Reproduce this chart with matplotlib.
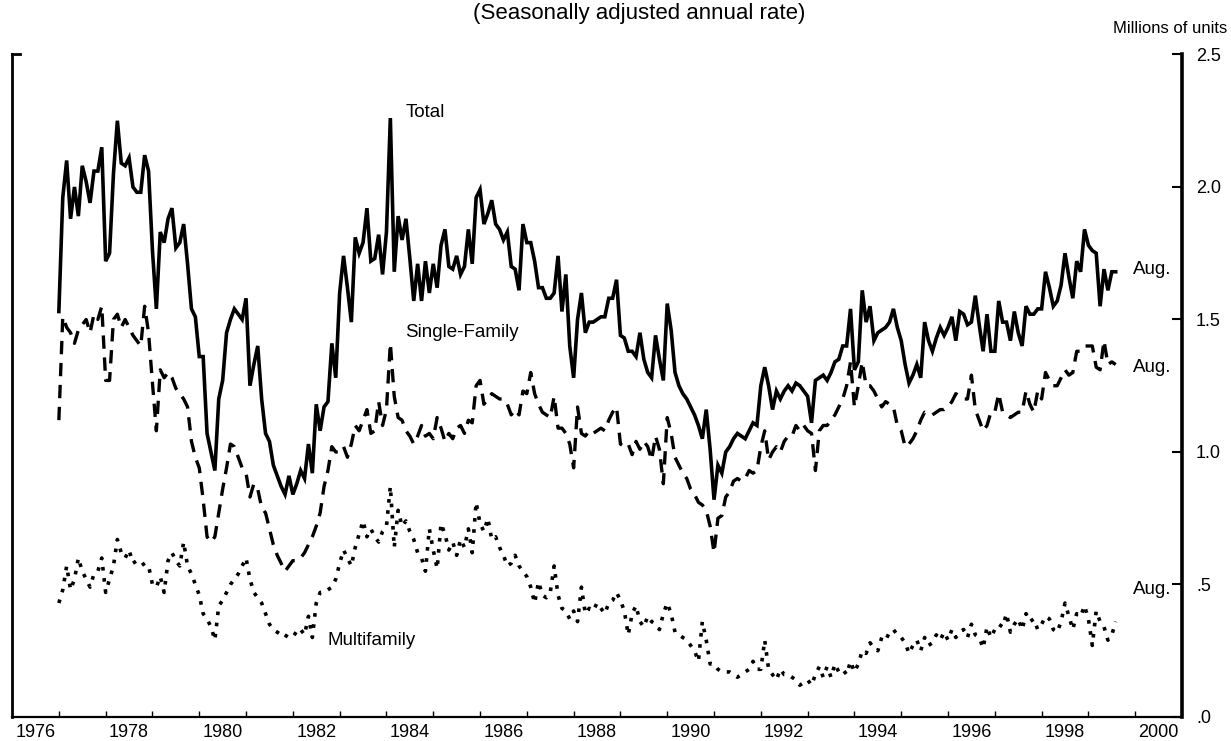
import matplotlib
matplotlib.use("Agg")
import matplotlib.pyplot as plt
import numpy as np

plt.rcParams['font.family'] = ['Liberation Sans', 'DejaVu Sans']

# Private housing starts, monthly Jan 1977 - Aug 1999 (millions, SAAR)
start_year = 1977

total = [
    1.53, 1.96, 2.10, 1.88, 2.00, 1.89, 2.08, 2.02, 1.94, 2.06, 2.06, 2.15,  # 1977
    1.72, 1.75, 2.05, 2.25, 2.09, 2.08, 2.11, 2.00, 1.98, 1.98, 2.12, 2.06,  # 1978
    1.76, 1.54, 1.83, 1.79, 1.88, 1.92, 1.77, 1.79, 1.86, 1.71, 1.54, 1.51,  # 1979
    1.36, 1.36, 1.07, 1.00, 0.93, 1.20, 1.27, 1.45, 1.50, 1.54, 1.52, 1.50,  # 1980
    1.58, 1.25, 1.33, 1.40, 1.20, 1.07, 1.04, 0.95, 0.91, 0.87, 0.84, 0.91,  # 1981
    0.84, 0.88, 0.93, 0.90, 1.03, 0.92, 1.18, 1.08, 1.17, 1.19, 1.41, 1.28,  # 1982
    1.60, 1.74, 1.62, 1.49, 1.81, 1.75, 1.79, 1.92, 1.72, 1.73, 1.82, 1.67,  # 1983
    1.83, 2.26, 1.68, 1.89, 1.80, 1.88, 1.73, 1.57, 1.71, 1.57, 1.72, 1.60,  # 1984
    1.71, 1.62, 1.78, 1.84, 1.70, 1.69, 1.74, 1.67, 1.70, 1.84, 1.71, 1.96,  # 1985
    1.99, 1.86, 1.90, 1.95, 1.86, 1.84, 1.80, 1.83, 1.70, 1.69, 1.61, 1.86,  # 1986
    1.79, 1.79, 1.72, 1.62, 1.62, 1.58, 1.58, 1.60, 1.74, 1.53, 1.67, 1.40,  # 1987
    1.28, 1.50, 1.60, 1.45, 1.49, 1.49, 1.50, 1.51, 1.51, 1.58, 1.58, 1.65,  # 1988
    1.44, 1.43, 1.38, 1.38, 1.36, 1.45, 1.35, 1.30, 1.28, 1.44, 1.35, 1.27,  # 1989
    1.56, 1.46, 1.30, 1.25, 1.22, 1.20, 1.17, 1.14, 1.10, 1.05, 1.16, 1.01,  # 1990
    0.82, 0.95, 0.92, 1.00, 1.02, 1.05, 1.07, 1.06, 1.05, 1.08, 1.11, 1.10,  # 1991
    1.25, 1.32, 1.25, 1.16, 1.23, 1.20, 1.23, 1.25, 1.23, 1.26, 1.25, 1.23,  # 1992
    1.21, 1.11, 1.27, 1.28, 1.29, 1.27, 1.30, 1.34, 1.35, 1.40, 1.40, 1.54,  # 1993
    1.31, 1.34, 1.61, 1.49, 1.55, 1.42, 1.45, 1.46, 1.47, 1.49, 1.54, 1.47,  # 1994
    1.42, 1.33, 1.26, 1.29, 1.33, 1.28, 1.49, 1.42, 1.38, 1.43, 1.47, 1.44,  # 1995
    1.47, 1.51, 1.42, 1.53, 1.52, 1.48, 1.49, 1.59, 1.48, 1.38, 1.52, 1.38,  # 1996
    1.38, 1.57, 1.49, 1.49, 1.42, 1.53, 1.45, 1.40, 1.55, 1.52, 1.52, 1.54,  # 1997
    1.54, 1.68, 1.62, 1.55, 1.57, 1.63, 1.75, 1.66, 1.58, 1.72, 1.68, 1.84,  # 1998
    1.78, 1.76, 1.75, 1.55, 1.69, 1.61, 1.68, 1.68,                          # 1999
]

single_family = [
    1.12, 1.51, 1.47, 1.45, 1.41, 1.46, 1.48, 1.50, 1.45, 1.52, 1.50, 1.55,  # 1977
    1.27, 1.27, 1.50, 1.52, 1.47, 1.50, 1.47, 1.44, 1.42, 1.40, 1.55, 1.45,  # 1978
    1.26, 1.08, 1.31, 1.28, 1.30, 1.28, 1.24, 1.22, 1.20, 1.17, 1.04, 0.98,  # 1979
    0.94, 0.82, 0.68, 0.66, 0.68, 0.77, 0.86, 0.94, 1.03, 1.02, 0.98, 0.94,  # 1980
    0.92, 0.83, 0.88, 0.86, 0.79, 0.77, 0.71, 0.65, 0.61, 0.58, 0.55, 0.57,  # 1981
    0.59, 0.59, 0.60, 0.62, 0.65, 0.68, 0.72, 0.77, 0.87, 0.93, 1.02, 1.00,  # 1982
    1.00, 1.02, 0.98, 1.03, 1.10, 1.08, 1.12, 1.16, 1.07, 1.08, 1.19, 1.10,  # 1983
    1.16, 1.41, 1.21, 1.13, 1.12, 1.08, 1.06, 1.03, 1.06, 1.10, 1.06, 1.07,  # 1984
    1.05, 1.13, 1.09, 1.04, 1.07, 1.05, 1.09, 1.10, 1.07, 1.12, 1.11, 1.25,  # 1985
    1.27, 1.18, 1.20, 1.22, 1.21, 1.20, 1.20, 1.18, 1.14, 1.16, 1.14, 1.23,  # 1986
    1.22, 1.30, 1.22, 1.18, 1.15, 1.14, 1.13, 1.21, 1.09, 1.09, 1.07, 1.03,  # 1987
    0.94, 1.17, 1.07, 1.06, 1.08, 1.07, 1.08, 1.09, 1.08, 1.12, 1.15, 1.17,  # 1988
    1.03, 1.02, 1.03, 0.99, 1.04, 1.01, 1.04, 1.02, 0.97, 1.06, 1.01, 0.88,  # 1989
    1.13, 1.07, 0.98, 0.95, 0.92, 0.90, 0.86, 0.84, 0.81, 0.80, 0.78, 0.72,  # 1990
    0.62, 0.75, 0.76, 0.83, 0.85, 0.89, 0.90, 0.89, 0.90, 0.93, 0.92, 0.93,  # 1991
    1.02, 1.08, 0.97, 1.00, 1.02, 1.00, 1.04, 1.06, 1.06, 1.10, 1.08, 1.10,  # 1992
    1.08, 1.07, 0.93, 1.08, 1.10, 1.10, 1.12, 1.14, 1.17, 1.20, 1.25, 1.34,  # 1993
    1.17, 1.25, 1.34, 1.25, 1.25, 1.23, 1.20, 1.17, 1.19, 1.18, 1.17, 1.10,  # 1994
    1.08, 1.02, 1.03, 1.05, 1.08, 1.12, 1.15, 1.14, 1.14, 1.15, 1.16, 1.16,  # 1995
    1.17, 1.19, 1.22, 1.21, 1.20, 1.20, 1.29, 1.16, 1.12, 1.08, 1.10, 1.15,  # 1996
    1.15, 1.22, 1.15, 1.14, 1.13, 1.14, 1.15, 1.15, 1.23, 1.18, 1.15, 1.23,  # 1997
    1.20, 1.30, 1.27, 1.25, 1.25, 1.28, 1.31, 1.29, 1.30, 1.38, 1.38, 1.40,  # 1998
    1.40, 1.40, 1.32, 1.31, 1.42, 1.33, 1.34, 1.33,                          # 1999
]

multifamily = [
    0.43, 0.48, 0.57, 0.48, 0.52, 0.60, 0.55, 0.52, 0.49, 0.54, 0.55, 0.60,  # 1977
    0.47, 0.52, 0.57, 0.67, 0.62, 0.60, 0.63, 0.58, 0.59, 0.59, 0.57, 0.57,  # 1978
    0.50, 0.49, 0.53, 0.47, 0.59, 0.62, 0.59, 0.57, 0.66, 0.57, 0.54, 0.50,  # 1979
    0.46, 0.39, 0.37, 0.34, 0.29, 0.42, 0.44, 0.47, 0.50, 0.52, 0.54, 0.57,  # 1980
    0.60, 0.52, 0.47, 0.45, 0.43, 0.39, 0.35, 0.33, 0.32, 0.31, 0.30, 0.32,  # 1981
    0.32, 0.31, 0.33, 0.31, 0.38, 0.30, 0.43, 0.47, 0.47, 0.48, 0.49, 0.52,  # 1982
    0.58, 0.63, 0.60, 0.57, 0.64, 0.69, 0.74, 0.68, 0.71, 0.68, 0.66, 0.70,  # 1983
    0.72, 0.87, 0.64, 0.78, 0.72, 0.74, 0.70, 0.67, 0.62, 0.60, 0.55, 0.71,  # 1984
    0.63, 0.56, 0.73, 0.69, 0.63, 0.66, 0.61, 0.67, 0.64, 0.71, 0.62, 0.81,  # 1985
    0.73, 0.70, 0.75, 0.67, 0.68, 0.64, 0.61, 0.57, 0.58, 0.61, 0.57, 0.55,  # 1986
    0.53, 0.49, 0.43, 0.51, 0.46, 0.45, 0.47, 0.57, 0.46, 0.41, 0.40, 0.37,  # 1987
    0.40, 0.36, 0.49, 0.39, 0.41, 0.40, 0.43, 0.41, 0.39, 0.43, 0.44, 0.47,  # 1988
    0.44, 0.40, 0.31, 0.39, 0.42, 0.36, 0.34, 0.38, 0.36, 0.35, 0.33, 0.39,  # 1989
    0.43, 0.39, 0.32, 0.31, 0.30, 0.29, 0.27, 0.25, 0.21, 0.36, 0.29, 0.20,  # 1990
    0.20, 0.18, 0.17, 0.17, 0.17, 0.16, 0.15, 0.16, 0.17, 0.18, 0.21, 0.18,  # 1991
    0.18, 0.29, 0.18, 0.16, 0.14, 0.18, 0.16, 0.16, 0.15, 0.14, 0.12, 0.13,  # 1992
    0.14, 0.12, 0.16, 0.19, 0.15, 0.19, 0.15, 0.20, 0.17, 0.18, 0.16, 0.21,  # 1993
    0.17, 0.20, 0.25, 0.24, 0.28, 0.26, 0.25, 0.30, 0.29, 0.32, 0.33, 0.31,  # 1994
    0.30, 0.28, 0.24, 0.27, 0.29, 0.25, 0.30, 0.27, 0.28, 0.31, 0.29, 0.32,  # 1995
    0.29, 0.33, 0.30, 0.32, 0.33, 0.30, 0.35, 0.31, 0.30, 0.26, 0.34, 0.30,  # 1996
    0.33, 0.35, 0.34, 0.39, 0.32, 0.35, 0.37, 0.33, 0.39, 0.36, 0.37, 0.33,  # 1997
    0.35, 0.38, 0.37, 0.33, 0.32, 0.36, 0.43, 0.38, 0.33, 0.39, 0.38, 0.42,  # 1998
    0.37, 0.27, 0.40, 0.36, 0.34, 0.29, 0.31, 0.36,                          # 1999
]

year_labels = [str(y) for y in range(1976, 2001, 2)]
y_ticks = [0.0, 0.5, 1.0, 1.5, 2.0, 2.5]
y_labels = ['.0', '.5', '1.0', '1.5', '2.0', '2.5']

# monthly dates as decimal years
dates = start_year + np.arange(len(total)) / 12.0

fig = plt.figure(figsize=(12.31, 7.41), dpi=100)
ax = fig.add_axes([0.0098, 0.0324, 0.9504, 0.8941])

ax.plot(dates, total, color='black', lw=2.6, solid_joinstyle='miter')
ax.plot(dates, single_family, color='black', lw=2.4, dashes=(4.0, 2.6))
ax.plot(dates, multifamily, color='black', lw=2.6, dashes=(1.0, 2.1))

ax.set_xlim(1976, 2001)
ax.set_ylim(0, 2.5)

# spines
ax.spines['top'].set_visible(False)
ax.spines['left'].set_linewidth(2.0)
ax.spines['bottom'].set_linewidth(1.6)
ax.spines['right'].set_linewidth(2.6)

# x axis: year ticks inside, labels centred in the even years
ax.set_xticks(np.arange(1977, 2001))
ax.set_xticklabels([])
ax.tick_params(axis='x', which='major', direction='in', length=4, width=1)
ax.set_xticks(np.arange(1976, 2001, 2) + 0.5, minor=True)
ax.set_xticklabels(year_labels, minor=True, fontsize=13)
ax.tick_params(axis='x', which='minor', length=0, pad=5)

# y axis on the right
ax.yaxis.tick_right()
ax.set_yticks(y_ticks)
ax.set_yticklabels(y_labels, fontsize=13)
ax.tick_params(axis='y', direction='in', length=7, width=1.5, pad=10)
ax.plot([1976, 1976.18], [2.5, 2.5], color='black', lw=2, clip_on=False)

# series labels
ax.text(1984.40, 2.28, 'Total', fontsize=13.5, va='center')
ax.text(1984.40, 1.45, 'Single-Family', fontsize=13.5, va='center')
ax.text(1982.75, 0.29, 'Multifamily', fontsize=13.5, va='center')
ax.text(1999.95, 1.69, 'Aug.', fontsize=13.5, va='center')
ax.text(1999.95, 1.32, 'Aug.', fontsize=13.5, va='center')
ax.text(1999.95, 0.48, 'Aug.', fontsize=13.5, va='center')

fig.text(0.519, 0.975, '(Seasonally adjusted annual rate)', fontsize=16,
         ha='center', va='baseline')
fig.text(0.997, 0.962, 'Millions of units', fontsize=12, ha='right',
         va='center')

fig.savefig('out.png', dpi=100)
